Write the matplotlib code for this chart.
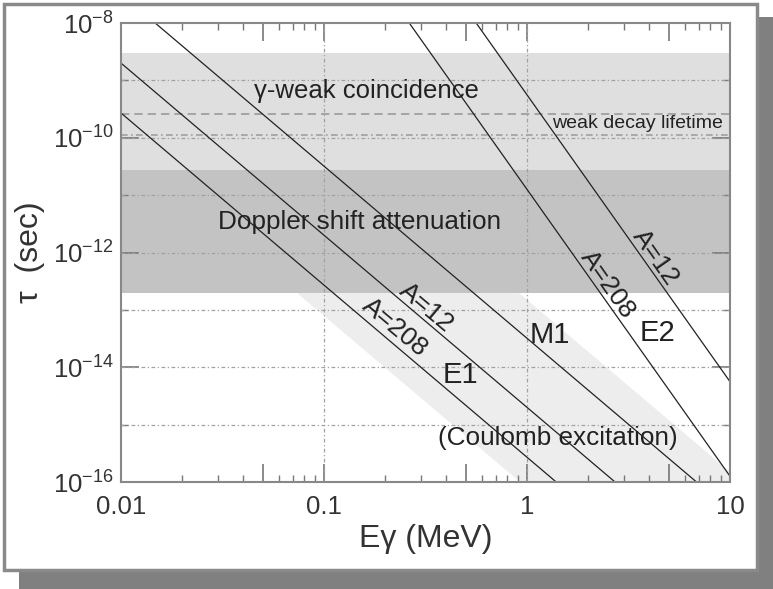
import numpy as np
import matplotlib
matplotlib.use("Agg")
import matplotlib.pyplot as plt
from matplotlib.patches import Rectangle

plt.rcParams['font.family'] = ['Liberation Sans', 'DejaVu Sans']
plt.rcParams['mathtext.fontset'] = 'custom'
plt.rcParams['mathtext.rm'] = 'Liberation Sans'
plt.rcParams['mathtext.it'] = 'Liberation Sans:italic'

# end points of the single-particle estimates
e_ends = [0.01, 10]                 # MeV
e1_a208 = [2.7e-10, 2.7e-19]        # sec
e1_a12 = [2.0e-9, 2.0e-18]
m1 = [3.2e-8, 3.2e-17]
e2_ends = [0.1, 10]
e2_a208 = [1.26e-6, 1.26e-16]
e2_a12 = [5.6e-5, 5.6e-15]

# measurement ranges
gamma_weak = [2.75e-11, 3.0e-9]
doppler = [2.0e-13, 2.75e-11]
weak_decay = [2.6e-10, 1.1e-10]
coulomb_lo = [7.9e-11, 7.9e-20]
coulomb_hi = [1.5e-7, 1.5e-16]

x_major = [0.01, 0.05, 0.1, 0.5, 1, 5, 10]
x_labels = ["0.01", "", "0.1", "", "1", "", "10"]
y_major = [1e-16, 1e-14, 1e-12, 1e-10, 1e-8]
y_labels = ["$10^{-16}$", "$10^{-14}$", "$10^{-12}$", "$10^{-10}$", "$10^{-8}$"]
y_minor = [1e-15, 1e-13, 1e-11, 1e-9]

fig = plt.figure(figsize=(7.73, 5.89), dpi=100)

# shadow + framed box
fig.patches.append(Rectangle((19 / 773, 0), 1, (589 - 17) / 589,
                             transform=fig.transFigure, facecolor="#808080",
                             edgecolor="none", zorder=-3))
fig.patches.append(Rectangle((4 / 773, 19 / 589), 753 / 773, 566 / 589,
                             transform=fig.transFigure, facecolor="white",
                             edgecolor="#8a8a8a", linewidth=2.5, zorder=-2))

ax = fig.add_axes([121 / 773, 107 / 589, 609 / 773, 459 / 589])
ax.set_xscale("log")
ax.set_yscale("log")
ax.set_xlim(0.01, 10)
ax.set_ylim(1e-16, 1e-8)
ax.set_facecolor("none")

ax.axhspan(gamma_weak[0], gamma_weak[1], color="#dfdfdf", lw=0, zorder=1)
ax.axhspan(doppler[0], doppler[1], color="#c3c3c3", lw=0, zorder=1)

eg = np.logspace(-2, 1, 400)
lo = 10 ** np.interp(np.log10(eg), np.log10(e_ends), np.log10(coulomb_lo))
hi = 10 ** np.interp(np.log10(eg), np.log10(e_ends), np.log10(coulomb_hi))
hi = np.minimum(hi, doppler[0])
ax.fill_between(eg, lo, hi, where=hi > lo, color="#ededed", lw=0, zorder=1)

ax.axhline(weak_decay[0], color="#9a9a9a", lw=1.2, ls=(0, (5, 3)), zorder=2)
ax.axhline(weak_decay[1], color="#a0a0a0", lw=1.2, ls=(0, (4, 2, 1, 2)), zorder=2)

for v in [0.1, 1]:
    ax.axvline(v, color="#a0a0a0", lw=0.9, ls=(0, (3, 2, 1, 2)), zorder=2)
for v in [1e-9, 1e-10, 1e-11, 1e-12, 1e-13, 1e-14, 1e-15]:
    ax.axhline(v, color="#a0a0a0", lw=0.9, ls=(0, (3, 2, 1, 2)), zorder=2)

for ys in [e1_a208, e1_a12, m1]:
    ax.plot(e_ends, ys, color="#222222", lw=0.9, zorder=3)
for ys in [e2_a208, e2_a12]:
    ax.plot(e2_ends, ys, color="#222222", lw=0.9, zorder=3)

txt = dict(color="#222222", ha="center", va="center", zorder=4)
ax.text(0.161, 6.5e-10, "γ-weak coincidence", fontsize=18.5, **txt)
ax.text(0.15, 3.4e-12, "Doppler shift attenuation", fontsize=18.8, **txt)
ax.text(1.33, 1.8e-10, "weak decay lifetime", fontsize=14, color="#222222",
        ha="left", va="center", zorder=4)
ax.text(0.32, 1.1e-13, "A=12", fontsize=19, rotation=-40, **txt)
ax.text(0.224, 4.9e-14, "A=208", fontsize=19, rotation=-40, **txt)
ax.text(0.468, 7.4e-15, "E1", fontsize=21, **txt)
ax.text(1.3, 3.6e-14, "M1", fontsize=21, **txt)
ax.text(4.4, 4.0e-14, "E2", fontsize=21, **txt)
ax.text(4.3, 8.1e-13, "A=12", fontsize=19, rotation=-55, **txt)
ax.text(2.5, 2.8e-13, "A=208", fontsize=19, rotation=-55, **txt)
ax.text(1.42, 5.9e-16, "(Coulomb excitation)", fontsize=18.8, **txt)

ax.set_xticks(x_major, x_labels)
ax.set_xticks([m * d for d in [0.01, 0.1, 1] for m in [2, 3, 4, 6, 7, 8, 9]],
              minor=True)
ax.xaxis.set_minor_formatter(plt.NullFormatter())
ax.set_yticks(y_major, y_labels)
ax.set_yticks(y_minor, minor=True)
ax.yaxis.set_minor_formatter(plt.NullFormatter())
ax.tick_params(which="both", direction="in", top=True, right=True,
               colors="#777777", labelcolor="#333333", labelsize=18.5)
ax.tick_params(which="major", length=13, width=1.2)
ax.tick_params(which="minor", length=5, width=1.0)
ax.tick_params(axis="x", pad=9)
ax.tick_params(axis="y", pad=5)
for s in ax.spines.values():
    s.set_color("#888888")
    s.set_linewidth(1.5)
    s.set_zorder(5)

ax.set_xlabel("Eγ (MeV)", fontsize=23, color="#333333", labelpad=4)
ax.set_ylabel("τ  (sec)", fontsize=23, color="#333333", labelpad=6)

fig.savefig("out.png", dpi=100, facecolor="white")
